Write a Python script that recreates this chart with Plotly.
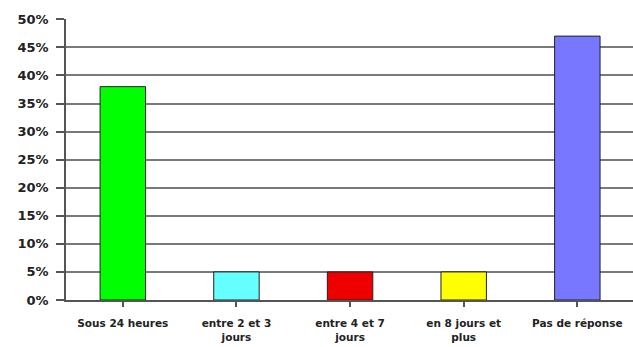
import plotly.graph_objects as go

categories = ["Sous 24 heures", "entre 2 et 3<br>jours", "entre 4 et 7<br>jours",
              "en 8 jours et<br>plus", "Pas de réponse"]
values = [38, 5, 5, 5, 47]
colors = ["#00FF00", "#66FFFF", "#EE0000", "#FFFF00", "#7777FF"]
y_ticks = [0, 5, 10, 15, 20, 25, 30, 35, 40, 45, 50]
y_tick_labels = [f"{v}%" for v in y_ticks]

x_pos = list(range(len(categories)))

fig = go.Figure(go.Bar(
    x=x_pos, y=values,
    marker=dict(color=colors, line=dict(color="#222222", width=1)),
    width=0.4,
))

fig.update_layout(
    width=633, height=347,
    margin=dict(l=66, r=0, t=19, b=47),
    paper_bgcolor="white", plot_bgcolor="white",
    showlegend=False,
    font=dict(family="DejaVu Sans", color="#222222"),
)
fig.update_xaxes(
    range=[-0.5, 4.49],
    tickmode="array", tickvals=x_pos, ticktext=[f"<b>{c}</b>" for c in categories],
    tickfont=dict(size=10.5, family="DejaVu Sans", color="#222222"),
    showline=True, linecolor="#555555", linewidth=1.5,
    ticks="outside", tickson="boundaries", ticklen=5, tickcolor="#555555", tickwidth=1.5,
    ticklabelstandoff=8,
    showgrid=False, zeroline=False,
)
fig.update_yaxes(
    range=[0, 50.05],
    tickmode="array", tickvals=y_ticks, ticktext=[f"<b>{t}</b>" for t in y_tick_labels],
    tickfont=dict(size=13, family="DejaVu Sans", color="#222222"),
    showline=True, linecolor="#555555", linewidth=1.5,
    ticks="outside", ticklen=8, tickcolor="#555555", tickwidth=1.5,
    ticklabelstandoff=5,
    showgrid=True, gridcolor="#7a7a7a", gridwidth=1.5,
    zeroline=False,
)

fig.write_html("out.html")
